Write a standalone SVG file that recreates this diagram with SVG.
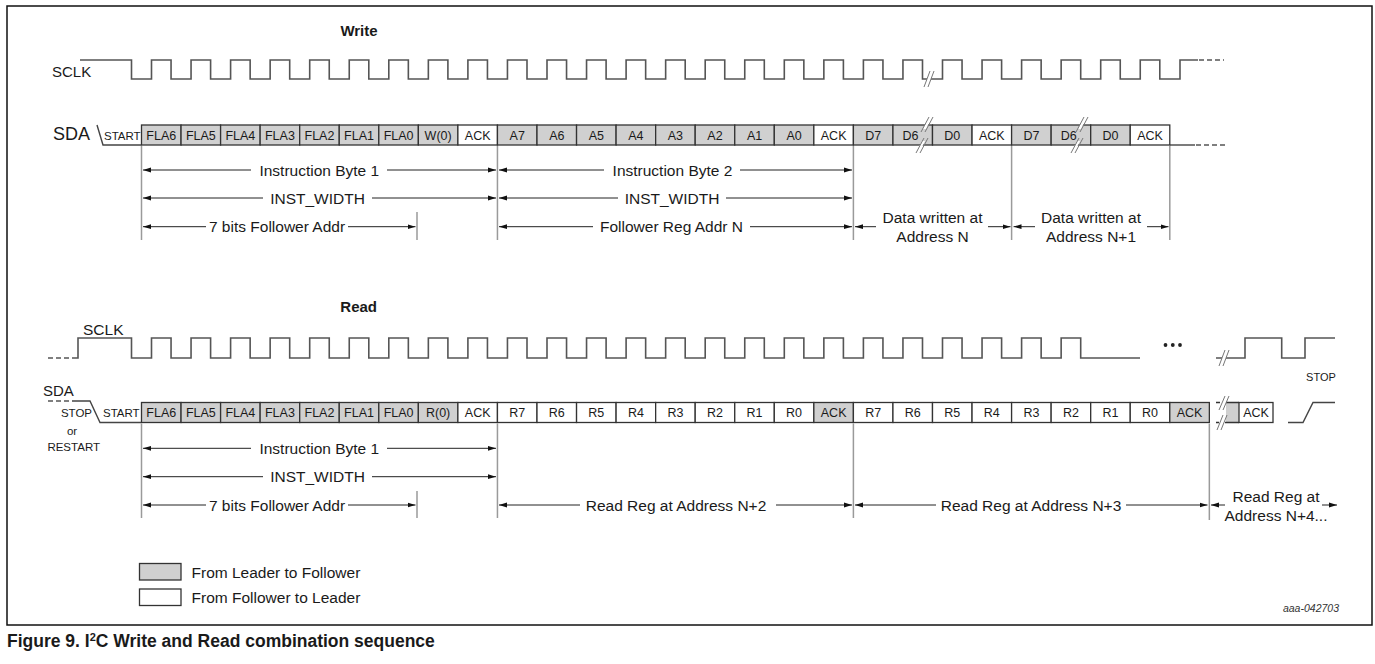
<svg xmlns="http://www.w3.org/2000/svg" width="1375" height="664" viewBox="0 0 1375 664">
<defs>
<style>
text{font-family:"Liberation Sans",Arial,Helvetica,sans-serif;fill:#1a1a1a}
.lbl{font-size:15.5px}
.cell{font-size:12.5px;text-anchor:middle}
.sm{font-size:11.5px}
.ttl{font-size:15px;font-weight:bold;text-anchor:middle}
.mid{text-anchor:middle}
.g{fill:#d0d0d0;stroke:#333;stroke-width:1.3}
.w{fill:#fff;stroke:#333;stroke-width:1.3}
.clk{fill:none;stroke:#555;stroke-width:1.6}
.sda{fill:none;stroke:#444;stroke-width:1.4}
.dash{fill:none;stroke:#555;stroke-width:1.5;stroke-dasharray:5 3}
.guide{stroke:#9a9a9a;stroke-width:1.5}
.dim{stroke:#222;stroke-width:1;marker-end:url(#ah)}
.brk{stroke:#777;stroke-width:1;fill:none}
.mask{fill:#fff;stroke:none}
</style>
<marker id="ah" viewBox="0 0 8 6" refX="8" refY="3" markerWidth="8" markerHeight="6" markerUnits="userSpaceOnUse" orient="auto"><path d="M0,0.6 L8,3 L0,5.4 z" fill="#111"/></marker>
</defs>
<rect x="0" y="0" width="1375" height="664" fill="#fff"/>
<rect id="frame" x="7" y="6" width="1365" height="619" fill="none" stroke="#111" stroke-width="1.5"/>

<!-- WRITE -->
<g id="write-title"><text class="ttl" x="359" y="36">Write</text></g>
<g id="write-sclk">
<text class="lbl" x="52" y="77" style="font-size:15px">SCLK</text>
<path class="clk" d="M80,60 H131.5 v19 h20 v-19 h19.55 v19 h20 v-19 h19.55 v19 h20 v-19 h19.55 v19 h20 v-19 h19.55 v19 h20 v-19 h19.55 v19 h20 v-19 h19.55 v19 h20 v-19 h19.55 v19 h20 v-19 h19.55 v19 h20 v-19 h19.55 v19 h20 v-19 h19.55 v19 h20 v-19 h19.55 v19 h20 v-19 h19.55 v19 h20 v-19 h19.55 v19 h20 v-19 h19.55 v19 h20 v-19 h19.55 v19 h20 v-19 h19.55 v19 h20 v-19 h19.55 v19 h20 v-19 h19.55 v19 h20 v-19 h19.55 v19 h20 v-19 h19.55 v19 h4.5"/>
<path class="clk" d="M931,79 H942.5 v-19 h19.55 v19 h20 v-19 h19.55 v19 h20 v-19 h19.55 v19 h20 v-19 h19.55 v19 h20 v-19 h19.55 v19 h20 v-19 h19.55 v19 H1180 v-19 H1198"/>
<path class="dash" d="M1199,60 H1224"/>
<path class="brk" d="M924,87 L930,71 M928,87 L934,71"/>
</g>
<g id="write-sda">
<text class="lbl" x="53" y="140" style="font-size:18px">SDA</text>
<path class="sda" d="M97,125 L103,145 H141.5"/>
<text class="sm" x="104" y="139.5">START</text>
<path class="sda" d="M1169.8,145 H1195"/>
<path class="dash" d="M1196,145 H1228"/>
</g>
<g id="write-cells">
<rect class="g" x="141.5" y="125" width="39.55" height="20"/><text class="cell" x="161.28" y="139.5">FLA6</text>
<rect class="g" x="181.05" y="125" width="39.55" height="20"/><text class="cell" x="200.83" y="139.5">FLA5</text>
<rect class="g" x="220.6" y="125" width="39.55" height="20"/><text class="cell" x="240.38" y="139.5">FLA4</text>
<rect class="g" x="260.15" y="125" width="39.55" height="20"/><text class="cell" x="279.93" y="139.5">FLA3</text>
<rect class="g" x="299.7" y="125" width="39.55" height="20"/><text class="cell" x="319.48" y="139.5">FLA2</text>
<rect class="g" x="339.25" y="125" width="39.55" height="20"/><text class="cell" x="359.03" y="139.5">FLA1</text>
<rect class="g" x="378.8" y="125" width="39.55" height="20"/><text class="cell" x="398.58" y="139.5">FLA0</text>
<rect class="g" x="418.35" y="125" width="39.55" height="20"/><text class="cell" x="438.13" y="139.5">W(0)</text>
<rect class="w" x="457.9" y="125" width="39.55" height="20"/><text class="cell" x="477.68" y="139.5">ACK</text>
<rect class="g" x="497.45" y="125" width="39.55" height="20"/><text class="cell" x="517.23" y="139.5">A7</text>
<rect class="g" x="537" y="125" width="39.55" height="20"/><text class="cell" x="556.78" y="139.5">A6</text>
<rect class="g" x="576.55" y="125" width="39.55" height="20"/><text class="cell" x="596.33" y="139.5">A5</text>
<rect class="g" x="616.1" y="125" width="39.55" height="20"/><text class="cell" x="635.88" y="139.5">A4</text>
<rect class="g" x="655.65" y="125" width="39.55" height="20"/><text class="cell" x="675.43" y="139.5">A3</text>
<rect class="g" x="695.2" y="125" width="39.55" height="20"/><text class="cell" x="714.98" y="139.5">A2</text>
<rect class="g" x="734.75" y="125" width="39.55" height="20"/><text class="cell" x="754.53" y="139.5">A1</text>
<rect class="g" x="774.3" y="125" width="39.55" height="20"/><text class="cell" x="794.08" y="139.5">A0</text>
<rect class="w" x="813.85" y="125" width="39.55" height="20"/><text class="cell" x="833.63" y="139.5">ACK</text>
<rect class="g" x="853.4" y="125" width="39.55" height="20"/><text class="cell" x="873.18" y="139.5">D7</text>
<rect class="g" x="892.95" y="125" width="39.55" height="20"/><text class="cell" x="910.5" y="139.5">D6</text>
<rect class="g" x="932.5" y="125" width="39.55" height="20"/><text class="cell" x="952.28" y="139.5">D0</text>
<rect class="w" x="972.05" y="125" width="39.55" height="20"/><text class="cell" x="991.83" y="139.5">ACK</text>
<rect class="g" x="1011.6" y="125" width="39.55" height="20"/><text class="cell" x="1031.38" y="139.5">D7</text>
<rect class="g" x="1051.15" y="125" width="39.55" height="20"/><text class="cell" x="1068.7" y="139.5">D6</text>
<rect class="g" x="1090.7" y="125" width="39.55" height="20"/><text class="cell" x="1110.48" y="139.5">D0</text>
<rect class="w" x="1130.25" y="125" width="39.55" height="20"/><text class="cell" x="1150.03" y="139.5">ACK</text>
<!-- break marks -->
<path class="mask" d="M923,129 L927,121 L930,121 L926,129 Z M918,149 L922,141 L925,141 L921,149 Z"/>
<path class="brk" d="M921,132 L929,117 M925,132 L933,117 M916,153 L924,138 M920,153 L928,138"/>
<path class="mask" d="M1078,129 L1082,121 L1085,121 L1081,129 Z M1073,149 L1077,141 L1080,141 L1076,149 Z"/>
<path class="brk" d="M1076,132 L1084,117 M1080,132 L1088,117 M1071,153 L1079,138 M1075,153 L1083,138"/>
</g>
<g id="write-guides">
<path class="guide" d="M141.5,146 V240 M417,212 V240 M497.45,146 V240 M853.4,146 V240 M1011.6,146 V240 M1169.8,146 V240"/>
</g>
<g id="write-dimensions">
<line class="dim" x1="251" y1="170" x2="143" y2="170"/><line class="dim" x1="387" y1="170" x2="496" y2="170"/>
<text class="lbl mid" x="319.3" y="175.5">Instruction Byte 1</text>
<line class="dim" x1="263" y1="198" x2="143" y2="198"/><line class="dim" x1="372" y1="198" x2="496" y2="198"/>
<text class="lbl mid" x="317.5" y="203.5">INST_WIDTH</text>
<line class="dim" x1="206" y1="226.7" x2="143" y2="226.7"/><line class="dim" x1="348" y1="226.7" x2="415.5" y2="226.7"/>
<text class="lbl mid" x="277" y="232.2">7 bits Follower Addr</text>
<line class="dim" x1="604" y1="170" x2="499" y2="170"/><line class="dim" x1="740" y1="170" x2="852" y2="170"/>
<text class="lbl mid" x="672.5" y="175.5">Instruction Byte 2</text>
<line class="dim" x1="618" y1="198" x2="499" y2="198"/><line class="dim" x1="726" y1="198" x2="852" y2="198"/>
<text class="lbl mid" x="672" y="203.5">INST_WIDTH</text>
<line class="dim" x1="593" y1="226.7" x2="499" y2="226.7"/><line class="dim" x1="750" y1="226.7" x2="852" y2="226.7"/>
<text class="lbl mid" x="671.5" y="232.2">Follower Reg Addr N</text>
<line class="dim" x1="876" y1="226.7" x2="855" y2="226.7"/><line class="dim" x1="988" y1="226.7" x2="1010.5" y2="226.7"/>
<text class="lbl mid" x="932.5" y="223">Data written at</text>
<text class="lbl mid" x="932.5" y="242">Address N</text>
<line class="dim" x1="1035" y1="226.7" x2="1013.5" y2="226.7"/><line class="dim" x1="1147" y1="226.7" x2="1168.5" y2="226.7"/>
<text class="lbl mid" x="1091" y="223">Data written at</text>
<text class="lbl mid" x="1091" y="242">Address N+1</text>
</g>

<!-- READ -->
<g id="read-title"><text class="ttl" x="358.7" y="312">Read</text></g>
<g id="read-sclk">
<text class="lbl" x="83" y="335" style="font-size:15.5px">SCLK</text>
<path class="dash" d="M48,358 H75"/>
<path class="clk" d="M75,358 H78 V338 H131.5 v20 h20 v-20 h19.55 v20 h20 v-20 h19.55 v20 h20 v-20 h19.55 v20 h20 v-20 h19.55 v20 h20 v-20 h19.55 v20 h20 v-20 h19.55 v20 h20 v-20 h19.55 v20 h20 v-20 h19.55 v20 h20 v-20 h19.55 v20 h20 v-20 h19.55 v20 h20 v-20 h19.55 v20 h20 v-20 h19.55 v20 h20 v-20 h19.55 v20 h20 v-20 h19.55 v20 h20 v-20 h19.55 v20 h20 v-20 h19.55 v20 h20 v-20 h19.55 v20 h20 v-20 h19.55 v20 h20 v-20 h19.55 v20 h20 v-20 h19.55 v20 h20 v-20 h19.55 v20 h20 v-20 h19.55 v20 h20 v-20 h19.55 v20 h20 v-20 h19.55 v20 H1140"/>
<circle cx="1165.5" cy="345" r="1.9" fill="#222"/><circle cx="1172.8" cy="345" r="1.9" fill="#222"/><circle cx="1180" cy="345" r="1.9" fill="#222"/>
<path class="clk" d="M1216,358 H1222 M1226,358 H1245 V338 H1281.7 V358 H1305 V338 H1335"/>
<path class="brk" d="M1219,366 L1225,350 M1223,366 L1229,350"/>
<text class="sm mid" x="1321" y="381" style="font-size:11px">STOP</text>
</g>
<g id="read-sda">
<text class="lbl" x="43" y="396" style="font-size:15px">SDA</text>
<path class="dash" d="M48,401 H72"/>
<path class="sda" d="M72,401 H90 L100,422.5 H141.5"/>
<text class="sm mid" x="76.5" y="417">STOP</text>
<text class="sm mid" x="72" y="435">or</text>
<text class="sm mid" x="73.7" y="451">RESTART</text>
<text class="sm" x="103" y="417">START</text>
<path class="sda" d="M1288,422.5 H1303 L1313,402.5 H1335"/>
</g>
<g id="read-cells">
<rect class="g" x="141.5" y="402.5" width="39.55" height="20"/><text class="cell" x="161.28" y="417">FLA6</text>
<rect class="g" x="181.05" y="402.5" width="39.55" height="20"/><text class="cell" x="200.83" y="417">FLA5</text>
<rect class="g" x="220.6" y="402.5" width="39.55" height="20"/><text class="cell" x="240.38" y="417">FLA4</text>
<rect class="g" x="260.15" y="402.5" width="39.55" height="20"/><text class="cell" x="279.93" y="417">FLA3</text>
<rect class="g" x="299.7" y="402.5" width="39.55" height="20"/><text class="cell" x="319.48" y="417">FLA2</text>
<rect class="g" x="339.25" y="402.5" width="39.55" height="20"/><text class="cell" x="359.03" y="417">FLA1</text>
<rect class="g" x="378.8" y="402.5" width="39.55" height="20"/><text class="cell" x="398.58" y="417">FLA0</text>
<rect class="g" x="418.35" y="402.5" width="39.55" height="20"/><text class="cell" x="438.13" y="417">R(0)</text>
<rect class="w" x="457.9" y="402.5" width="39.55" height="20"/><text class="cell" x="477.68" y="417">ACK</text>
<rect class="w" x="497.45" y="402.5" width="39.55" height="20"/><text class="cell" x="517.23" y="417">R7</text>
<rect class="w" x="537" y="402.5" width="39.55" height="20"/><text class="cell" x="556.78" y="417">R6</text>
<rect class="w" x="576.55" y="402.5" width="39.55" height="20"/><text class="cell" x="596.33" y="417">R5</text>
<rect class="w" x="616.1" y="402.5" width="39.55" height="20"/><text class="cell" x="635.88" y="417">R4</text>
<rect class="w" x="655.65" y="402.5" width="39.55" height="20"/><text class="cell" x="675.43" y="417">R3</text>
<rect class="w" x="695.2" y="402.5" width="39.55" height="20"/><text class="cell" x="714.98" y="417">R2</text>
<rect class="w" x="734.75" y="402.5" width="39.55" height="20"/><text class="cell" x="754.53" y="417">R1</text>
<rect class="w" x="774.3" y="402.5" width="39.55" height="20"/><text class="cell" x="794.08" y="417">R0</text>
<rect class="g" x="813.85" y="402.5" width="39.55" height="20"/><text class="cell" x="833.63" y="417">ACK</text>
<rect class="w" x="853.4" y="402.5" width="39.55" height="20"/><text class="cell" x="873.18" y="417">R7</text>
<rect class="w" x="892.95" y="402.5" width="39.55" height="20"/><text class="cell" x="912.73" y="417">R6</text>
<rect class="w" x="932.5" y="402.5" width="39.55" height="20"/><text class="cell" x="952.28" y="417">R5</text>
<rect class="w" x="972.05" y="402.5" width="39.55" height="20"/><text class="cell" x="991.83" y="417">R4</text>
<rect class="w" x="1011.6" y="402.5" width="39.55" height="20"/><text class="cell" x="1031.38" y="417">R3</text>
<rect class="w" x="1051.15" y="402.5" width="39.55" height="20"/><text class="cell" x="1070.93" y="417">R2</text>
<rect class="w" x="1090.7" y="402.5" width="39.55" height="20"/><text class="cell" x="1110.48" y="417">R1</text>
<rect class="w" x="1130.25" y="402.5" width="39.55" height="20"/><text class="cell" x="1150.03" y="417">R0</text>
<rect class="g" x="1169.8" y="402.5" width="39.55" height="20"/><text class="cell" x="1189.58" y="417">ACK</text>
<!-- continuation after break -->
<rect x="1226" y="402.5" width="13" height="20" fill="#d0d0d0"/>
<path class="sda" d="M1216,402.5 H1220 M1226,402.5 H1239 M1216,422.5 H1219 M1225,422.5 H1239" style="stroke:#333;stroke-width:1.3"/>
<rect class="w" x="1239" y="402.5" width="34" height="20"/><text class="cell" x="1256" y="417">ACK</text>
<path class="brk" d="M1219,410 L1225,396 M1223,410 L1229,396 M1217,430 L1223,415 M1221,430 L1227,415"/>
</g>
<g id="read-guides">
<path class="guide" d="M141.5,423.5 V518 M417,491 V518 M497.45,423.5 V518 M853.4,423.5 V518 M1209.35,423.5 V520"/>
</g>
<g id="read-dimensions">
<line class="dim" x1="251" y1="448.3" x2="143" y2="448.3"/><line class="dim" x1="387" y1="448.3" x2="496" y2="448.3"/>
<text class="lbl mid" x="319.3" y="453.8">Instruction Byte 1</text>
<line class="dim" x1="263" y1="476.7" x2="143" y2="476.7"/><line class="dim" x1="372" y1="476.7" x2="496" y2="476.7"/>
<text class="lbl mid" x="317.5" y="482.2">INST_WIDTH</text>
<line class="dim" x1="206" y1="505" x2="143" y2="505"/><line class="dim" x1="348" y1="505" x2="415.5" y2="505"/>
<text class="lbl mid" x="277" y="510.5">7 bits Follower Addr</text>
<line class="dim" x1="580" y1="505" x2="499" y2="505"/><line class="dim" x1="776" y1="505" x2="852" y2="505"/>
<text class="lbl mid" x="676" y="510.5">Read Reg at Address N+2</text>
<line class="dim" x1="936" y1="505" x2="855" y2="505"/><line class="dim" x1="1126" y1="505" x2="1207.5" y2="505"/>
<text class="lbl mid" x="1031" y="510.5">Read Reg at Address N+3</text>
<line class="dim" x1="1225" y1="505" x2="1211" y2="505"/><line class="dim" x1="1322" y1="505" x2="1337" y2="505"/>
<text class="lbl mid" x="1276" y="502">Read Reg at</text>
<text class="lbl mid" x="1276" y="521">Address N+4...</text>
</g>

<!-- LEGEND -->
<g id="legend-leader">
<rect class="g" x="139.5" y="563.5" width="41.5" height="16.5"/>
<text class="lbl" x="191.5" y="577.5">From Leader to Follower</text>
</g>
<g id="legend-follower">
<rect class="w" x="139.5" y="589" width="41.5" height="16.5"/>
<text class="lbl" x="191.5" y="603">From Follower to Leader</text>
</g>
<text x="1339" y="612" style="font-size:10.5px;font-style:italic;text-anchor:end;fill:#333">aaa-042703</text>
<text x="7" y="647" style="font-size:17.5px;font-weight:bold">Figure 9. I<tspan dy="-6" style="font-size:11px">2</tspan><tspan dy="6">C Write and Read combination sequence</tspan></text>
</svg>
